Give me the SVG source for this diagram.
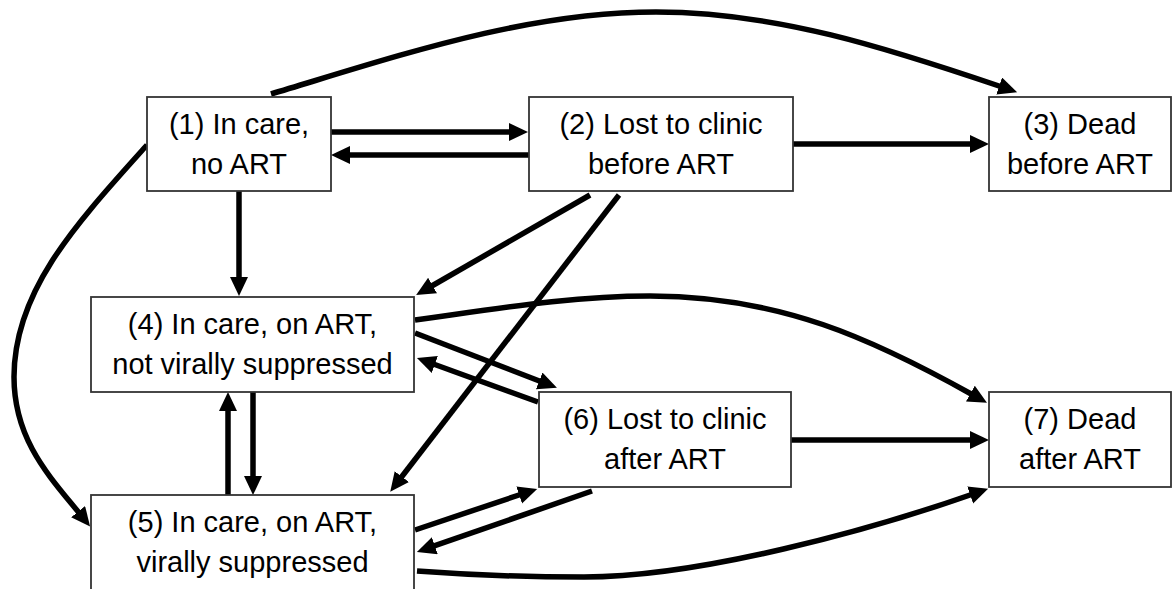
<svg xmlns="http://www.w3.org/2000/svg" width="1173" height="589" viewBox="0 0 1173 589">
<style>
.box{fill:#fff;stroke:#333;stroke-width:1.8}
.t{font-family:"Liberation Sans",Arial,sans-serif;font-size:29px;fill:#000;text-anchor:middle}
.e{fill:none;stroke:#000;stroke-width:5.5;marker-end:url(#ah)}
</style>
<defs>
<marker id="ah" markerUnits="userSpaceOnUse" markerWidth="20" markerHeight="20" viewBox="0 0 20 20" refX="3" refY="9" orient="auto">
<path d="M0,0 L19,9 L0,18 z" fill="#000"/>
</marker>
</defs>
<rect width="1173" height="589" fill="#fff"/>
<g id="connectors">
<path class="e" d="M271,94 C401,55 526,12 656,12 C776,12 887,48 1002,87"/>
<path class="e" d="M331,132 L512,132"/>
<path class="e" d="M529,155 L347,155"/>
<path class="e" d="M793,144 L973,144"/>
<path class="e" d="M239,191 L239,280"/>
<path class="e" d="M147,145 C77,223 14,290 14,377 C14,440 50,477 80,514"/>
<path class="e" d="M590,195 L430,287"/>
<path class="e" d="M619,195 L400,479"/>
<path class="e" d="M415,320 C495,309 570,296 650,296 C780,296 873,339 973,395"/>
<path class="e" d="M415,333 L542,382"/>
<path class="e" d="M538,402 L432,363.5"/>
<path class="e" d="M228,495 L228,408"/>
<path class="e" d="M253,392 L253,479"/>
<path class="e" d="M415,530 L522,494"/>
<path class="e" d="M592,491 L432,546.7"/>
<path class="e" d="M791,440 L973,440"/>
<path class="e" d="M417,571 C470,575 530,577 584,577 C700,577 870,530 973,494"/>
</g>
<g id="n1"><rect class="box" x="147" y="97" width="184" height="94"/><text class="t" x="239" y="134">(1) In care,</text><text class="t" x="239" y="174">no ART</text></g>
<g id="n2"><rect class="box" x="529" y="97" width="264" height="94"/><text class="t" x="661" y="134">(2) Lost to clinic</text><text class="t" x="661" y="174">before ART</text></g>
<g id="n3"><rect class="box" x="989" y="97" width="182" height="94"/><text class="t" x="1080" y="134">(3) Dead</text><text class="t" x="1080" y="174">before ART</text></g>
<g id="n4"><rect class="box" x="91" y="297" width="323" height="95"/><text class="t" x="252.5" y="334">(4) In care, on ART,</text><text class="t" x="252.5" y="374">not virally suppressed</text></g>
<g id="n5"><rect class="box" x="91" y="495" width="323" height="110"/><text class="t" x="252.5" y="532">(5) In care, on ART,</text><text class="t" x="252.5" y="572">virally suppressed</text></g>
<g id="n6"><rect class="box" x="539" y="392" width="252" height="95"/><text class="t" x="665" y="429">(6) Lost to clinic</text><text class="t" x="665" y="469">after ART</text></g>
<g id="n7"><rect class="box" x="989" y="392" width="182" height="95"/><text class="t" x="1080" y="429">(7) Dead</text><text class="t" x="1080" y="469">after ART</text></g>
</svg>
